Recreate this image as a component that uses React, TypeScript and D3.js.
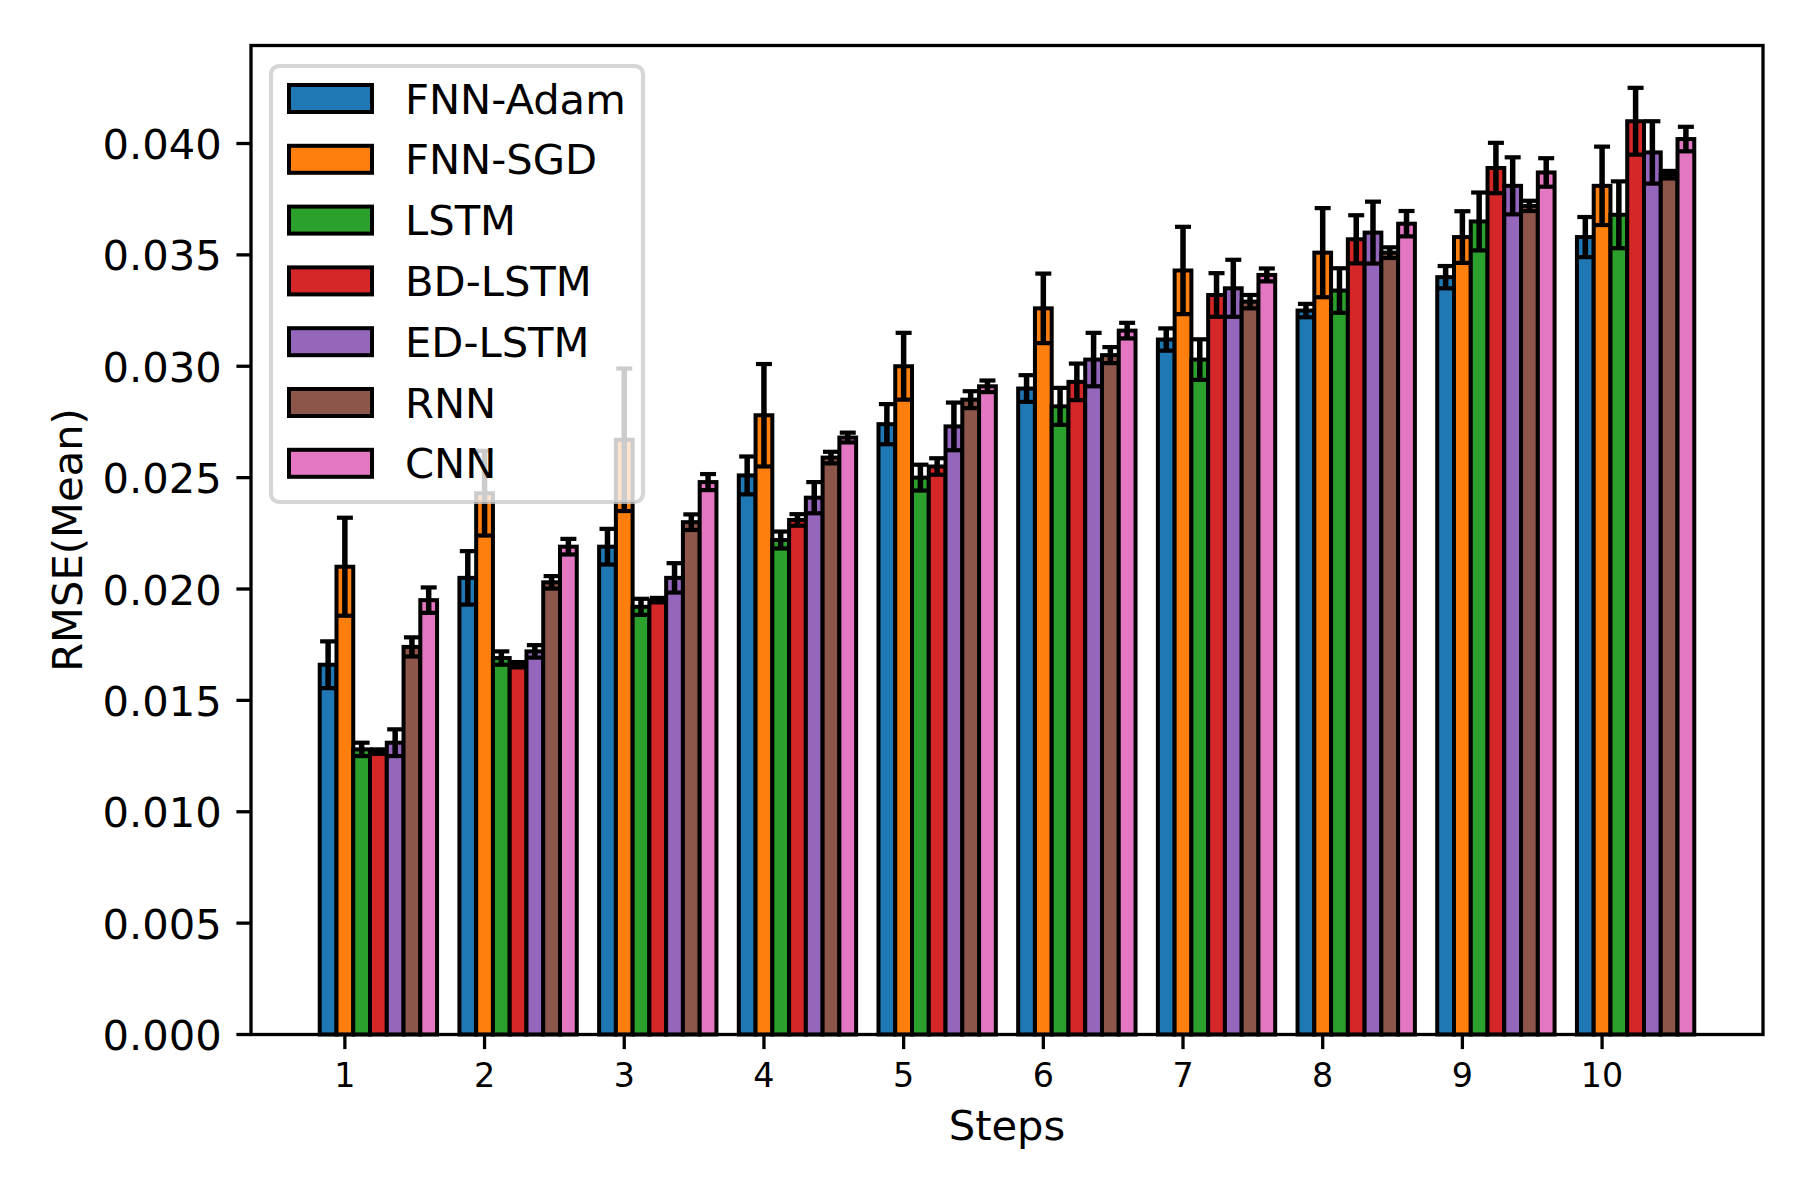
import React from "react";
import * as d3 from "d3";

const steps = [1, 2, 3, 4, 5, 6, 7, 8, 9, 10];
const seriesNames = ["FNN-Adam", "FNN-SGD", "LSTM", "BD-LSTM", "ED-LSTM", "RNN", "CNN"];
const seriesColors = ["#1f77b4", "#ff7f0e", "#2ca02c", "#d62728", "#9467bd", "#8c564b", "#e377c2"];

const fnnAdam = [0.0166, 0.0205, 0.0219, 0.0251, 0.0274, 0.0290, 0.0312, 0.0325, 0.0340, 0.0358];
const fnnAdamErr = [0.00105, 0.0012, 0.0008, 0.00085, 0.0009, 0.0006, 0.0005, 0.0003, 0.0005, 0.0009];
const fnnSgd = [0.0210, 0.0243, 0.0267, 0.0278, 0.0300, 0.0326, 0.0343, 0.0351, 0.0358, 0.0381];
const fnnSgdErr = [0.0022, 0.0019, 0.0032, 0.0023, 0.0015, 0.00156, 0.00196, 0.0020, 0.00116, 0.00176];
const lstm = [0.0128, 0.0169, 0.0192, 0.0222, 0.0250, 0.0282, 0.0303, 0.0334, 0.0365, 0.0368];
const lstmErr = [0.0003, 0.0003, 0.00036, 0.00038, 0.00058, 0.00083, 0.00091, 0.0010, 0.0013, 0.0015];
const bdLstm = [0.0127, 0.0166, 0.0195, 0.0231, 0.0255, 0.0293, 0.0332, 0.0357, 0.0389, 0.0410];
const bdLstmErr = [0.0001, 0.00012, 0.0001, 0.00026, 0.00037, 0.00082, 0.00098, 0.00108, 0.00113, 0.0015];
const edLstm = [0.0131, 0.0172, 0.0205, 0.0241, 0.0273, 0.0303, 0.0335, 0.0360, 0.0381, 0.0396];
const edLstmErr = [0.0006, 0.00028, 0.00066, 0.0007, 0.00107, 0.0012, 0.00128, 0.00139, 0.00128, 0.0014];
const rnn = [0.0174, 0.0203, 0.0230, 0.0259, 0.0285, 0.0305, 0.0329, 0.0351, 0.0372, 0.0386];
const rnnErr = [0.00043, 0.00028, 0.00035, 0.00026, 0.00038, 0.00036, 0.0003, 0.00024, 0.00023, 0.00017];
const cnn = [0.0195, 0.0219, 0.0248, 0.0268, 0.0291, 0.0316, 0.0341, 0.0364, 0.0387, 0.0402];
const cnnErr = [0.00057, 0.00035, 0.00036, 0.00022, 0.00026, 0.00035, 0.00029, 0.00057, 0.00064, 0.00055];

const yTicks = [0, 0.005, 0.01, 0.015, 0.02, 0.025, 0.03, 0.035, 0.04];
const yMax = 0.0444;
const xLabel = "Steps";
const yLabel = "RMSE(Mean)";

const seriesValues = [fnnAdam, fnnSgd, lstm, bdLstm, edLstm, rnn, cnn];
const seriesErrors = [fnnAdamErr, fnnSgdErr, lstmErr, bdLstmErr, edLstmErr, rnnErr, cnnErr];

const W = 1800;
const H = 1200;
const AX = { left: 251, right: 1763, top: 45.5, bottom: 1034.5 };
const BAR_W = 0.12;
const FONT = "'DejaVu Sans', sans-serif";

export default function App() {
  const n = seriesNames.length;
  // bar i centered at step + (i-1)*BAR_W
  const offsets = seriesNames.map((_, i) => (i - 1) * BAR_W);
  const xMinData = d3.min(steps)! + offsets[0] - BAR_W / 2;
  const xMaxData = d3.max(steps)! + offsets[n - 1] + BAR_W / 2;
  const pad = (xMaxData - xMinData) * 0.05;
  const x = d3.scaleLinear().domain([xMinData - pad, xMaxData + pad]).range([AX.left, AX.right]);
  const y = d3.scaleLinear().domain([0, yMax]).range([AX.bottom, AX.top]);
  const bw = x(BAR_W) - x(0);
  const tickLen = 14.6;
  const capHalf = 8;

  const legendLeft = 271;
  const legendTop = 66;
  const legendW = 372;
  const legendH = 436;
  const rowStep = 60.8;

  return (
    <svg
      width={W}
      height={H}
      viewBox={`0 0 ${W} ${H}`}
      style={{ position: "absolute", left: 0, top: 0, background: "#fff" }}
      fontFamily={FONT}
    >
      <rect x={0} y={0} width={W} height={H} fill="#fff" />
      {/* bars */}
      {seriesValues.map((vals, si) => (
        <g key={"bars" + si}>
          {vals.map((v, j) => {
            const cx = x(steps[j] + offsets[si]);
            return (
              <rect
                key={j}
                x={cx - bw / 2}
                y={y(v)}
                width={bw}
                height={y(0) - y(v)}
                fill={seriesColors[si]}
                stroke="#000"
                strokeWidth={4}
              />
            );
          })}
        </g>
      ))}
      {/* error bars */}
      {seriesValues.map((vals, si) => (
        <g key={"err" + si} stroke="#000">
          {vals.map((v, j) => {
            const cx = x(steps[j] + offsets[si]);
            const e = seriesErrors[si][j];
            const y1 = y(v + e);
            const y0 = y(v - e);
            return (
              <g key={j}>
                <line x1={cx} x2={cx} y1={y0} y2={y1} strokeWidth={5.5} />
                <line x1={cx - capHalf} x2={cx + capHalf} y1={y1} y2={y1} strokeWidth={4.2} />
                <line x1={cx - capHalf} x2={cx + capHalf} y1={y0} y2={y0} strokeWidth={4.2} />
              </g>
            );
          })}
        </g>
      ))}
      {/* axes frame */}
      <rect
        x={AX.left}
        y={AX.top}
        width={AX.right - AX.left}
        height={AX.bottom - AX.top}
        fill="none"
        stroke="#000"
        strokeWidth={3.3}
      />
      {/* y ticks */}
      {yTicks.map((t) => (
        <g key={"yt" + t}>
          <line x1={AX.left - tickLen} x2={AX.left} y1={y(t)} y2={y(t)} stroke="#000" strokeWidth={3.3} />
          <text x={AX.left - tickLen - 14.6} y={y(t) + 15.5} textAnchor="end" fontSize={41.67} fill="#000">
            {d3.format(".3f")(t)}
          </text>
        </g>
      ))}
      {/* x ticks */}
      {steps.map((s) => (
        <g key={"xt" + s}>
          <line x1={x(s)} x2={x(s)} y1={AX.bottom} y2={AX.bottom + tickLen} stroke="#000" strokeWidth={3.3} />
          <text x={x(s)} y={1087} textAnchor="middle" fontSize={33.33} fill="#000">
            {String(s)}
          </text>
        </g>
      ))}
      <text x={(AX.left + AX.right) / 2} y={1140} textAnchor="middle" fontSize={41.67} fill="#000">
        {xLabel}
      </text>
      <text
        transform={`translate(82, ${(AX.top + AX.bottom) / 2}) rotate(-90)`}
        textAnchor="middle"
        fontSize={41.67}
        fill="#000"
      >
        {yLabel}
      </text>
      {/* legend */}
      <rect
        x={legendLeft}
        y={legendTop}
        width={legendW}
        height={legendH}
        rx={8}
        ry={8}
        fill="rgba(255,255,255,0.8)"
        stroke="rgba(204,204,204,0.8)"
        strokeWidth={4.2}
      />
      {seriesNames.map((name, i) => {
        const cy = 98.5 + i * rowStep;
        return (
          <g key={"lg" + i}>
            <rect x={289} y={cy - 13.5} width={83} height={27} fill={seriesColors[i]} stroke="#000" strokeWidth={4} />
            <text x={405} y={cy + 15} fontSize={41.67} fill="#000">
              {name}
            </text>
          </g>
        );
      })}
    </svg>
  );
}
